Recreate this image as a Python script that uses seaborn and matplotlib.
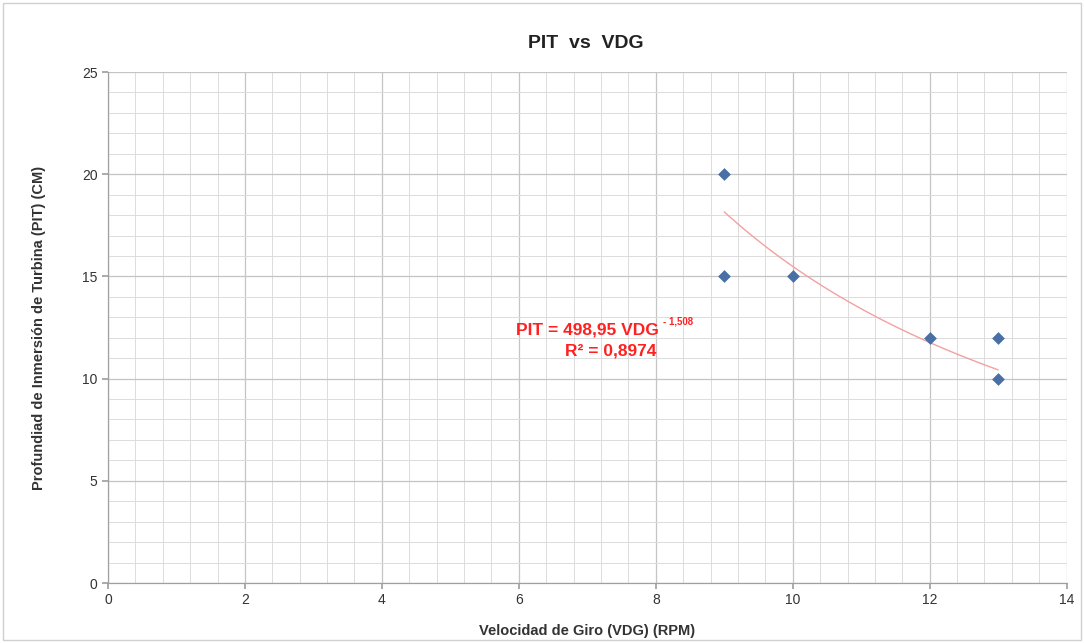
import matplotlib
matplotlib.use("Agg")
import matplotlib.pyplot as plt
import seaborn as sns
import numpy as np
import pandas as pd
from matplotlib.ticker import MultipleLocator

vdg = [9, 9, 10, 12, 13, 13]
pit = [20, 15, 15, 12, 12, 10]
coef_a = 498.95
coef_b = -1.508
eq_label = "PIT = 498,95 VDG"
eq_exp = "- 1,508"
r2_label = "R² = 0,8974"
title = "PIT  vs  VDG"
xlabel = "Velocidad de Giro (VDG) (RPM)"
ylabel = "Profundiad de Inmersión de Turbina (PIT) (CM)"

sns.set_theme(style="white")
plt.rcParams['font.family'] = ['Liberation Sans', 'DejaVu Sans']

df = pd.DataFrame({"VDG": vdg, "PIT": pit})

fig = plt.figure(figsize=(10.84, 6.43), dpi=100)
ax = fig.add_axes([0.0996, 0.0933, 0.8844, 0.7947])

ax.set_xlim(0, 14)
ax.set_ylim(0, 25)
ax.xaxis.set_major_locator(MultipleLocator(2))
ax.xaxis.set_minor_locator(MultipleLocator(0.4))
ax.yaxis.set_major_locator(MultipleLocator(5))
ax.yaxis.set_minor_locator(MultipleLocator(1))
ax.grid(which="major", color="#c4c4c4", linewidth=0.9)
ax.grid(which="minor", color="#dcdcdc", linewidth=0.7)
ax.set_axisbelow(True)

xs = np.linspace(min(vdg), max(vdg), 100)
sns.lineplot(x=xs, y=coef_a * xs ** coef_b, ax=ax, color="#f4a0a0", linewidth=1.0)
sns.scatterplot(data=df, x="VDG", y="PIT", ax=ax, marker="D", s=36,
                color="#4a6fa5", edgecolor="#4a6fa5", zorder=5)

for s in ["top", "right"]:
    ax.spines[s].set_visible(False)
for s in ["left", "bottom"]:
    ax.spines[s].set_color("#a0a0a0")
    ax.spines[s].set_linewidth(0.9)

ax.tick_params(axis="both", which="major", length=4, color="#a0a0a0",
               labelsize=10, labelcolor="#333333", direction="out",
               bottom=True, left=True)
ax.tick_params(which="minor", length=0)

ax.set_xlabel(xlabel, fontsize=10.5, fontweight="bold", color="#333333", labelpad=12)
ax.set_ylabel(ylabel, fontsize=10.5, fontweight="bold", color="#333333", labelpad=26)
fig.suptitle(title, x=0.54, y=0.945, fontsize=14, fontweight="bold", color="#222222")

t = ax.text(7.0, 12.4, eq_label, ha="center", va="center",
            fontsize=12.5, fontweight="bold", color="#ff2020")
ax.annotate(eq_exp, xy=(1, 0.7), xycoords=t, xytext=(3, 0), textcoords="offset points",
            ha="left", va="bottom", fontsize=7, fontweight="bold", color="#ff2020")
ax.text(7.34, 11.35, r2_label, ha="center", va="center",
        fontsize=12.5, fontweight="bold", color="#ff2020")

border = plt.Rectangle((0.003, 0.005), 0.994, 0.99, transform=fig.transFigure,
                       fill=False, edgecolor="#d0d0d0", linewidth=1)
fig.add_artist(border)

fig.savefig("out.png", dpi=100, facecolor="white")
